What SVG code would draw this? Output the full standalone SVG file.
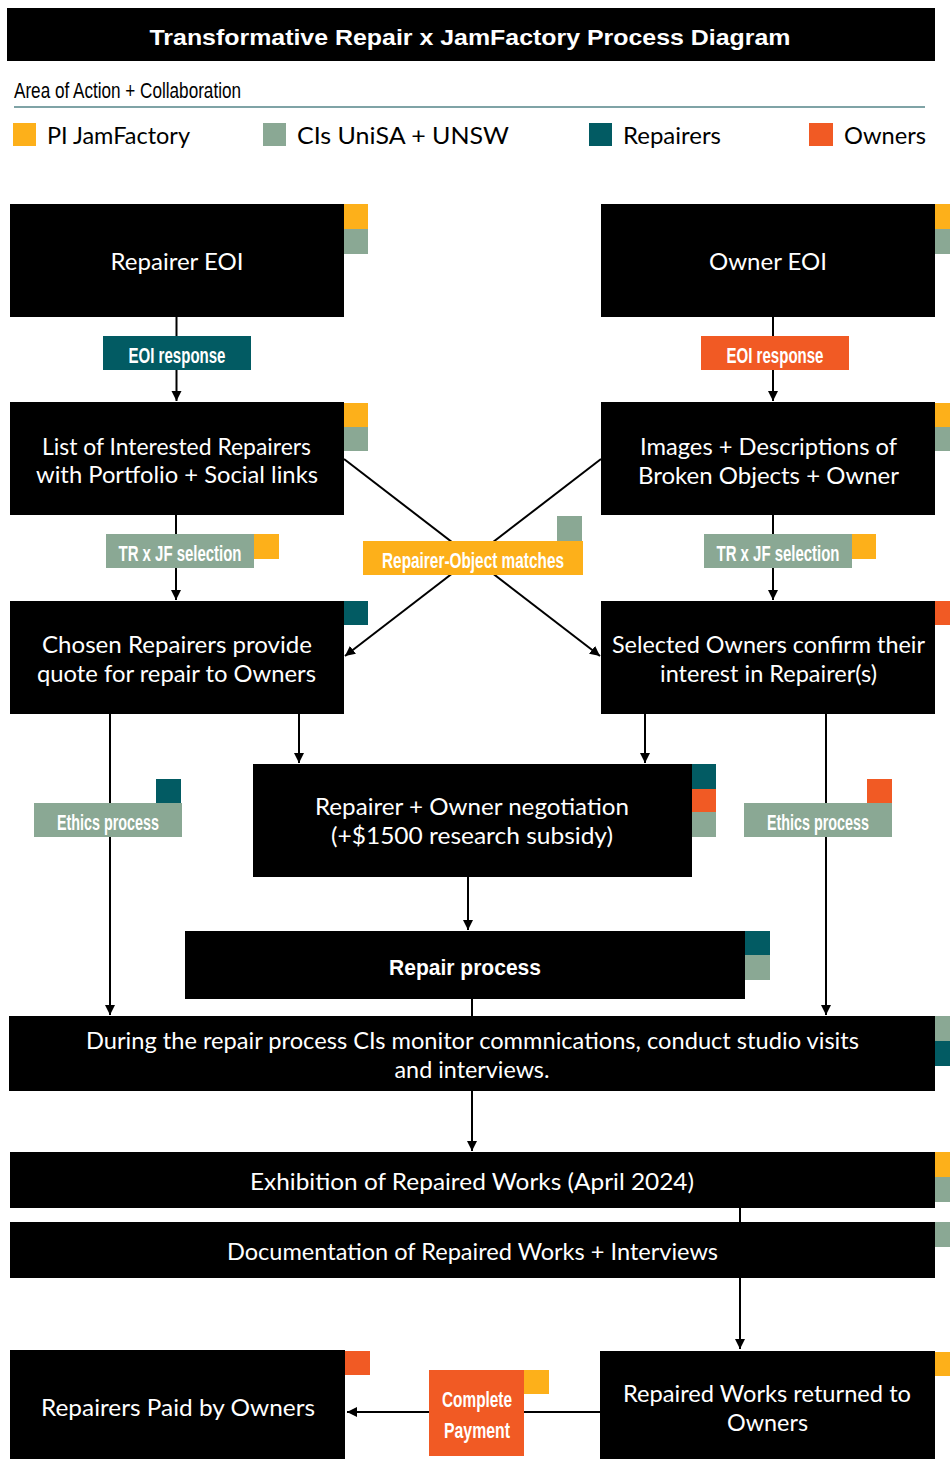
<svg xmlns="http://www.w3.org/2000/svg" width="950" height="1459" viewBox="0 0 950 1459">
<defs>
<style>
.box{fill:#000}
.t{fill:#fff;font-family:Lato,"Noto Sans",sans-serif;font-size:23px;text-anchor:middle}
.c{fill:#fff;font-family:"Liberation Sans",Arial,sans-serif;font-weight:bold;font-size:22px;text-anchor:middle}
.y{fill:#FDB01A}.g{fill:#8AA894}.b{fill:#025B63}.r{fill:#F15A24}
.ln{stroke:#000;stroke-width:2;fill:none}
.lt{fill:#000;font-family:Lato,"Noto Sans",sans-serif;font-size:24px}
</style>
<marker id="ah" markerUnits="userSpaceOnUse" markerWidth="12" markerHeight="12" refX="10" refY="5" orient="auto">
<path d="M0,0 L10,5 L0,10 Z" fill="#000"/>
</marker>
</defs>
<rect width="950" height="1459" fill="#fff"/>

<g id="header">
<rect x="7" y="8" width="928" height="53" fill="#000"/>
<text x="470" y="45" class="c" font-size="29" textLength="641" lengthAdjust="spacingAndGlyphs">Transformative Repair x JamFactory Process Diagram</text>
<text x="14" y="98" fill="#000" font-family="Liberation Sans,Arial,sans-serif" font-size="22" textLength="227" lengthAdjust="spacingAndGlyphs">Area of Action + Collaboration</text>
<line x1="14" y1="107" x2="925" y2="107" stroke="#7FA3A6" stroke-width="2"/>
</g>

<g id="legend">
<rect class="y" x="13" y="123" width="23" height="23"/>
<text class="lt" x="47" y="144" textLength="143" lengthAdjust="spacingAndGlyphs">PI JamFactory</text>
<rect class="g" x="263" y="123" width="23" height="23"/>
<text class="lt" x="297" y="144" textLength="212" lengthAdjust="spacingAndGlyphs">CIs UniSA + UNSW</text>
<rect class="b" x="589" y="123" width="23" height="23"/>
<text class="lt" x="623" y="144" textLength="98" lengthAdjust="spacingAndGlyphs">Repairers</text>
<rect class="r" x="809" y="123" width="24" height="23"/>
<text class="lt" x="844" y="144" textLength="82" lengthAdjust="spacingAndGlyphs">Owners</text>
</g>

<g id="connectors">
<line class="ln" x1="176.5" y1="317" x2="176.5" y2="401" marker-end="url(#ah)"/>
<line class="ln" x1="773" y1="317" x2="773" y2="401" marker-end="url(#ah)"/>
<line class="ln" x1="176" y1="515" x2="176" y2="600" marker-end="url(#ah)"/>
<line class="ln" x1="773" y1="515" x2="773" y2="600" marker-end="url(#ah)"/>
<line class="ln" x1="344" y1="459" x2="600" y2="656" marker-end="url(#ah)"/>
<line class="ln" x1="601" y1="459" x2="345" y2="656" marker-end="url(#ah)"/>
<line class="ln" x1="299" y1="714" x2="299" y2="763" marker-end="url(#ah)"/>
<line class="ln" x1="645" y1="714" x2="645" y2="763" marker-end="url(#ah)"/>
<line class="ln" x1="110" y1="714" x2="110" y2="1015" marker-end="url(#ah)"/>
<line class="ln" x1="826" y1="714" x2="826" y2="1015" marker-end="url(#ah)"/>
<line class="ln" x1="468" y1="877" x2="468" y2="930" marker-end="url(#ah)"/>
<line class="ln" x1="472" y1="999" x2="472" y2="1016"/>
<line class="ln" x1="472" y1="1091" x2="472" y2="1151" marker-end="url(#ah)"/>
<line class="ln" x1="740" y1="1208" x2="740" y2="1222"/>
<line class="ln" x1="740" y1="1278" x2="740" y2="1349" marker-end="url(#ah)"/>
<line class="ln" x1="600" y1="1412" x2="347" y2="1412" marker-end="url(#ah)"/>
</g>

<g id="label-eoi-left">
<rect class="b" x="103" y="336" width="148" height="34"/>
<text class="c" x="177" y="363" textLength="97" lengthAdjust="spacingAndGlyphs">EOI response</text>
</g>
<g id="label-eoi-right">
<rect class="r" x="701" y="336" width="148" height="34"/>
<text class="c" x="775" y="363" textLength="97" lengthAdjust="spacingAndGlyphs">EOI response</text>
</g>
<g id="label-sel-left">
<rect class="g" x="106" y="534" width="148" height="34"/>
<rect class="y" x="254" y="534" width="25" height="25"/>
<text class="c" x="180" y="561" textLength="123" lengthAdjust="spacingAndGlyphs">TR x JF selection</text>
</g>
<g id="label-sel-right">
<rect class="g" x="704" y="534" width="148" height="34"/>
<rect class="y" x="852" y="534" width="24" height="25"/>
<text class="c" x="778" y="561" textLength="123" lengthAdjust="spacingAndGlyphs">TR x JF selection</text>
</g>
<g id="label-matches">
<rect class="y" x="363" y="541" width="220" height="34"/>
<rect class="g" x="557" y="516" width="25" height="25"/>
<text class="c" x="473" y="568" textLength="182" lengthAdjust="spacingAndGlyphs">Repairer-Object matches</text>
</g>
<g id="label-ethics-left">
<rect class="g" x="34" y="803" width="148" height="34"/>
<rect class="b" x="156" y="779" width="25" height="24"/>
<text class="c" x="108" y="830" textLength="102" lengthAdjust="spacingAndGlyphs">Ethics process</text>
</g>
<g id="label-ethics-right">
<rect class="g" x="744" y="803" width="148" height="34"/>
<rect class="r" x="867" y="779" width="25" height="24"/>
<text class="c" x="818" y="830" textLength="102" lengthAdjust="spacingAndGlyphs">Ethics process</text>
</g>
<g id="label-payment">
<rect class="r" x="429" y="1370" width="95" height="86"/>
<rect class="y" x="524" y="1370" width="25" height="24"/>
<text class="c" x="477" y="1407" textLength="70" lengthAdjust="spacingAndGlyphs">Complete</text>
<text class="c" x="477" y="1438" textLength="66" lengthAdjust="spacingAndGlyphs">Payment</text>
</g>

<g id="node-repairer-eoi">
<rect class="box" x="10" y="204" width="334" height="113"/>
<rect class="y" x="344" y="204" width="24" height="25"/>
<rect class="g" x="344" y="229" width="24" height="25"/>
<text class="t" x="177" y="270" textLength="133" lengthAdjust="spacingAndGlyphs">Repairer EOI</text>
</g>
<g id="node-owner-eoi">
<rect class="box" x="601" y="204" width="334" height="113"/>
<rect class="y" x="935" y="204" width="25" height="25"/>
<rect class="g" x="935" y="229" width="25" height="25"/>
<text class="t" x="768" y="270" textLength="118" lengthAdjust="spacingAndGlyphs">Owner EOI</text>
</g>
<g id="node-list">
<rect class="box" x="10" y="402" width="334" height="113"/>
<rect class="y" x="344" y="403" width="24" height="24"/>
<rect class="g" x="344" y="427" width="24" height="24"/>
<text class="t" x="176.5" y="455" textLength="269" lengthAdjust="spacingAndGlyphs">List of Interested Repairers</text>
<text class="t" x="177" y="483" textLength="282" lengthAdjust="spacingAndGlyphs">with Portfolio + Social links</text>
</g>
<g id="node-images">
<rect class="box" x="601" y="402" width="334" height="113"/>
<rect class="y" x="935" y="403" width="25" height="24"/>
<rect class="g" x="935" y="427" width="25" height="24"/>
<text class="t" x="768.5" y="455" textLength="257" lengthAdjust="spacingAndGlyphs">Images + Descriptions of</text>
<text class="t" x="768.5" y="484" textLength="261" lengthAdjust="spacingAndGlyphs">Broken Objects + Owner</text>
</g>
<g id="node-chosen">
<rect class="box" x="10" y="601" width="334" height="113"/>
<rect class="b" x="344" y="601" width="24" height="24"/>
<text class="t" x="177" y="653" textLength="270" lengthAdjust="spacingAndGlyphs">Chosen Repairers provide</text>
<text class="t" x="176.5" y="682" textLength="279" lengthAdjust="spacingAndGlyphs">quote for repair to Owners</text>
</g>
<g id="node-selected">
<rect class="box" x="601" y="601" width="334" height="113"/>
<rect class="r" x="935" y="601" width="25" height="24"/>
<text class="t" x="768.5" y="653" textLength="313" lengthAdjust="spacingAndGlyphs">Selected Owners confirm their</text>
<text class="t" x="768.5" y="682" textLength="217" lengthAdjust="spacingAndGlyphs">interest in Repairer(s)</text>
</g>
<g id="node-negotiation">
<rect class="box" x="253" y="764" width="439" height="113"/>
<rect class="b" x="692" y="764" width="24" height="25"/>
<rect class="r" x="692" y="789" width="24" height="23"/>
<rect class="g" x="692" y="812" width="24" height="25"/>
<text class="t" x="472" y="815" textLength="314" lengthAdjust="spacingAndGlyphs">Repairer + Owner negotiation</text>
<text class="t" x="472" y="844" textLength="282" lengthAdjust="spacingAndGlyphs">(+$1500 research subsidy)</text>
</g>
<g id="node-repair">
<rect class="box" x="185" y="931" width="560" height="68"/>
<rect class="b" x="745" y="931" width="25" height="24"/>
<rect class="g" x="745" y="955" width="25" height="25"/>
<text class="c" x="465" y="975" font-size="23" textLength="152" lengthAdjust="spacingAndGlyphs">Repair process</text>
</g>
<g id="node-during">
<rect class="box" x="9" y="1016" width="926" height="75"/>
<rect class="g" x="935" y="1016" width="25" height="25"/>
<rect class="b" x="935" y="1041" width="25" height="25"/>
<text class="t" x="472.5" y="1049" font-size="22" textLength="773" lengthAdjust="spacingAndGlyphs">During the repair process CIs monitor commnications, conduct studio visits</text>
<text class="t" x="472" y="1078" font-size="22" textLength="155" lengthAdjust="spacingAndGlyphs">and interviews.</text>
</g>
<g id="node-exhibition">
<rect class="box" x="10" y="1152" width="925" height="56"/>
<rect class="y" x="935" y="1152" width="25" height="25"/>
<rect class="g" x="935" y="1177" width="25" height="25"/>
<text class="t" x="472" y="1190" font-size="22" textLength="444" lengthAdjust="spacingAndGlyphs">Exhibition of Repaired Works (April 2024)</text>
</g>
<g id="node-documentation">
<rect class="box" x="10" y="1222" width="925" height="56"/>
<rect class="g" x="935" y="1222" width="25" height="25"/>
<text class="t" x="472.5" y="1260" font-size="22" textLength="491" lengthAdjust="spacingAndGlyphs">Documentation of Repaired Works + Interviews</text>
</g>
<g id="node-paid">
<rect class="box" x="10" y="1350" width="335" height="109"/>
<rect class="r" x="345" y="1351" width="25" height="24"/>
<text class="t" x="178" y="1416" font-size="22" textLength="274" lengthAdjust="spacingAndGlyphs">Repairers Paid by Owners</text>
</g>
<g id="node-returned">
<rect class="box" x="600" y="1351" width="335" height="108"/>
<rect class="y" x="935" y="1352" width="25" height="24"/>
<text class="t" x="767" y="1402" font-size="22" textLength="288" lengthAdjust="spacingAndGlyphs">Repaired Works returned to</text>
<text class="t" x="767.5" y="1431" font-size="22" textLength="81" lengthAdjust="spacingAndGlyphs">Owners</text>
</g>
</svg>
